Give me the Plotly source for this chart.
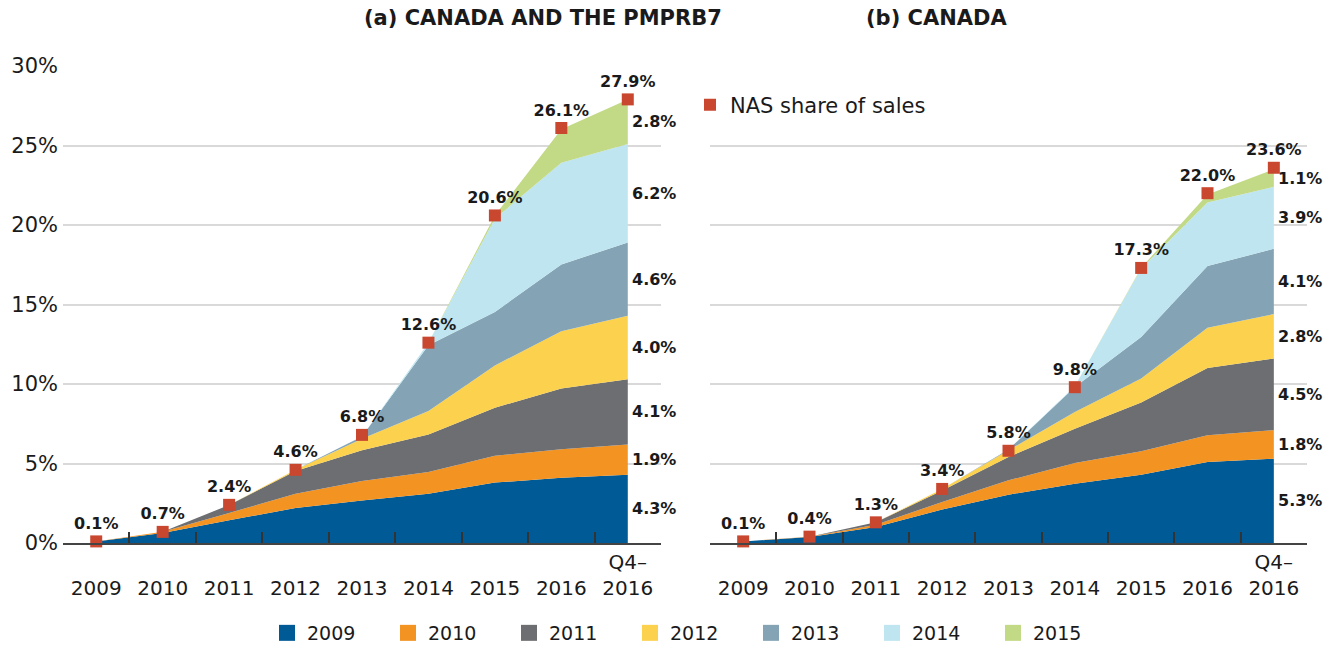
import plotly.graph_objects as go

periods = ["2009", "2010", "2011", "2012", "2013", "2014", "2015", "2016", "Q4-2016"]
tick_text = ["<br>2009", "<br>2010", "<br>2011", "<br>2012", "<br>2013",
             "<br>2014", "<br>2015", "<br>2016", "Q4–<br>2016"]
y_ticks = [0, 5, 10, 15, 20, 25, 30]
cohorts = ["2009", "2010", "2011", "2012", "2013", "2014", "2015"]
colors = ["#005A96", "#F39322", "#6D6E71", "#FCD14D", "#84A4B6", "#BFE5F0", "#C2D985"]

# (a) Canada and the PMPRB7 - share of sales by launch cohort (%)
pmprb_2009 = [0.1, 0.63, 1.43, 2.2, 2.68, 3.1, 3.8, 4.1, 4.3]
pmprb_2010 = [0, 0.07, 0.46, 0.9, 1.22, 1.37, 1.69, 1.8, 1.9]
pmprb_2011 = [0, 0, 0.5, 1.43, 1.93, 2.36, 3.02, 3.82, 4.1]
pmprb_2012 = [0, 0, 0, 0.07, 0.73, 1.47, 2.66, 3.6, 4.0]
pmprb_2013 = [0, 0, 0, 0, 0.14, 4.13, 3.36, 4.2, 4.6]
pmprb_2014 = [0, 0, 0, 0, 0, 0.17, 5.87, 6.4, 6.2]
pmprb_2015 = [0, 0, 0, 0, 0, 0, 0.2, 2.1, 2.8]
pmprb_nas = [0.1, 0.7, 2.4, 4.6, 6.8, 12.6, 20.6, 26.1, 27.9]
pmprb_end = ["4.3%", "1.9%", "4.1%", "4.0%", "4.6%", "6.2%", "2.8%"]

# (b) Canada
can_2009 = [0.1, 0.38, 1.0, 2.1, 3.04, 3.73, 4.3, 5.09, 5.3]
can_2010 = [0, 0.02, 0.15, 0.48, 0.9, 1.3, 1.47, 1.68, 1.8]
can_2011 = [0, 0, 0.15, 0.72, 1.47, 2.16, 3.06, 4.23, 4.5]
can_2012 = [0, 0, 0, 0.1, 0.42, 1.05, 1.51, 2.54, 2.8]
can_2013 = [0, 0, 0, 0, 0.05, 1.57, 2.62, 3.88, 4.1]
can_2014 = [0, 0, 0, 0, 0, 0.05, 4.3, 4.0, 3.9]
can_2015 = [0, 0, 0, 0, 0, 0, 0.05, 0.5, 1.1]
can_nas = [0.1, 0.4, 1.3, 3.4, 5.8, 9.8, 17.3, 22.0, 23.6]
can_end = ["5.3%", "1.8%", "4.5%", "2.8%", "4.1%", "3.9%", "1.1%"]

pmprb = [pmprb_2009, pmprb_2010, pmprb_2011, pmprb_2012, pmprb_2013, pmprb_2014, pmprb_2015]
canada = [can_2009, can_2010, can_2011, can_2012, can_2013, can_2014, can_2015]

FONT = "DejaVu Sans"
TXT = "#1a1a1a"
fig = go.Figure()

panels = [("x", "y", pmprb, pmprb_nas, pmprb_end, "a"),
          ("x2", "y2", canada, can_nas, can_end, "b")]

for xa, ya, series, nas, end_labels, grp in panels:
    for i, vals in enumerate(series):
        fig.add_trace(go.Scatter(
            x=periods, y=vals, xaxis=xa, yaxis=ya,
            name=cohorts[i], showlegend=False,
            stackgroup=grp, mode="none", fillcolor=colors[i],
            line=dict(width=0), hoverinfo="skip"
        ))
    fig.add_trace(go.Scatter(
        x=periods, y=nas, xaxis=xa, yaxis=ya,
        name="NAS share of sales", showlegend=(grp == "b"), legend="legend2",
        mode="markers+text", marker=dict(symbol="square", size=12, color="#C9472F"),
        text=[f"<b>{v:.1f}%</b>" for v in nas], textposition="top center",
        textfont=dict(family=FONT, size=16, color=TXT), cliponaxis=False
    ))
    # labels for final-period layers
    base = 0
    for i, vals in enumerate(series):
        mid = base + vals[-1] / 2
        base += vals[-1]
        fig.add_annotation(
            x=periods[-1], y=mid, xref=xa, yref=ya, text=f"<b>{end_labels[i]}</b>",
            showarrow=False, xanchor="left", xshift=2,
            font=dict(family=FONT, size=16, color=TXT)
        )

# square legend keys for the cohorts
for i, name in enumerate(cohorts):
    fig.add_trace(go.Scatter(
        x=[None], y=[None], name=name, mode="markers",
        marker=dict(symbol="square", size=17, color=colors[i]), showlegend=True
    ))

W, H = 1333, 648
xdom1 = [63 / W, 661 / W]
xdom2 = [710 / W, 1307 / W]
ydom = [1 - 543 / H, 1 - 66 / H]

xaxis_style = dict(
    type="category", range=[-0.5, 8.5], tickvals=periods, ticktext=tick_text,
    tickson="boundaries", ticks="inside", ticklen=11, tickcolor="#333", tickwidth=1.5,
    showline=True, linecolor="#444", linewidth=2, showgrid=False, automargin=False,
    layer="above traces",
    tickfont=dict(family=FONT, size=20, color=TXT), fixedrange=True
)
yaxis_style = dict(
    range=[0, 30], tickvals=y_ticks, automargin=False,
    showgrid=True, gridcolor="#D9D9D9", gridwidth=1.5, zeroline=False,
    showline=False, fixedrange=True
)

fig.update_layout(
    width=W, height=H,
    margin=dict(l=0, r=0, t=0, b=0, autoexpand=False),
    plot_bgcolor="white", paper_bgcolor="white",
    font=dict(family=FONT, color=TXT),
    xaxis=dict(domain=xdom1, anchor="y", **xaxis_style),
    xaxis2=dict(domain=xdom2, anchor="y2", **xaxis_style),
    yaxis=dict(domain=ydom, anchor="x", ticktext=[f"{v}%" for v in y_ticks],
               ticklabelstandoff=4,
               tickfont=dict(family=FONT, size=21, color=TXT), **yaxis_style),
    yaxis2=dict(domain=ydom, anchor="x2", showticklabels=False, **yaxis_style),
    legend=dict(orientation="h", x=0.518, xanchor="center", y=1 - 633 / H, yanchor="middle",
                entrywidth=76, itemwidth=30, font=dict(family=FONT, size=19, color=TXT),
                traceorder="normal"),
    legend2=dict(x=690 / W, y=1 - 105 / H, xanchor="left", yanchor="middle",
                 font=dict(family=FONT, size=21, color=TXT), bgcolor="rgba(0,0,0,0)"),
    annotations=list(fig.layout.annotations) + [
        dict(text="<b>(a) CANADA AND THE PMPRB7</b>", x=sum(xdom1) / 2, y=1 - 18 / H,
             xref="paper", yref="paper", showarrow=False, yanchor="middle",
             font=dict(family=FONT, size=21, color=TXT)),
        dict(text="<b>(b) CANADA</b>", x=sum(xdom2) / 2, y=1 - 18 / H,
             xref="paper", yref="paper", showarrow=False, yanchor="middle",
             font=dict(family=FONT, size=21, color=TXT)),
    ],
)

fig.write_html("out.html", config={"displayModeBar": False},
               post_script="document.body.style.margin='0';")
